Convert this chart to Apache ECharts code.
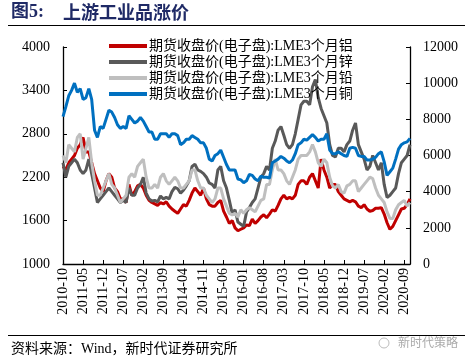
<!DOCTYPE html>
<html><head><meta charset="utf-8">
<script src="https://cdn.jsdelivr.net/npm/echarts@6/dist/echarts.min.js"></script>
<style>html,body{margin:0;padding:0;background:#fff}#c{width:469px;height:364px}</style>
</head><body><div id="c"></div>
<script>
// months 2010-10 .. 2020-11
function buildMonths(){var a=[];var y=2010,m=10;for(var i=0;i<122;i++){a.push(y+'-'+(m<10?'0'+m:m));m++;if(m>12){m=1;y++;}}return a;}
var months = buildMonths();
var seriesNames = ['期货收盘价(电子盘):LME3个月铝','期货收盘价(电子盘):LME3个月锌','期货收盘价(电子盘):LME3个月铅','期货收盘价(电子盘):LME3个月铜'];
var aluminum = [2350,2300,2400,2450,2500,2600,2650,2750,2550,2550,2400,2250,2150,2050,2000,2150,2250,2200,2050,2000,1900,1900,1850,2100,1950,2000,2080,2100,2050,1950,
1880,1850,1830,1810,1850,1830,1860,1800,1760,1730,1700,1760,1820,1800,1880,1980,2050,2000,1950,2050,1900,1820,1800,1800,1850,1880,1730,1650,1560,1600,
1500,1460,1480,1500,1540,1530,1620,1560,1600,1650,1680,1640,1690,1750,1730,1810,1900,1950,1900,1920,1900,1950,2100,2150,2150,2100,2200,2250,2150,2050,
2450,2300,2200,2050,2100,2100,2000,1950,1900,1880,1860,1880,1860,1800,1780,1820,1760,1730,1740,1770,1770,1780,1690,1570,1480,1520,1600,1680,1760,1770,
1820,1900];
var zinc = [2400,2200,2350,2400,2450,2400,2300,2250,2300,2450,2250,2050,1850,1900,1950,2000,2050,2000,1950,1900,1850,1880,1850,2050,1950,1950,2050,2100,2200,1980,
1900,1870,1880,1860,1940,1900,1920,1900,2000,2060,2040,1980,2020,2080,2150,2350,2380,2300,2280,2250,2200,2120,2100,2050,2300,2350,2150,2050,1880,1700,
1750,1580,1550,1520,1720,1780,1850,1900,2050,2200,2250,2350,2300,2600,2700,2850,2900,2780,2650,2600,2650,2800,3000,3200,3250,3250,3200,3450,3550,3300,
3150,3050,2950,2650,2500,2480,2600,2600,2550,2650,2700,2850,2950,2650,2550,2450,2300,2350,2500,2400,2300,2400,2100,1920,1950,2000,2050,2250,2400,2450,
2500,2650];
var lead = [2500,2400,2650,2600,2550,2750,2800,2450,2600,2750,2400,2150,1950,1950,2050,2150,2250,2100,2050,1950,1850,1900,1950,2200,2250,2200,2350,2400,2450,2200,
2050,2050,2100,2050,2200,2250,2150,2100,2150,2200,2150,2050,2050,2100,2150,2300,2300,2150,2050,2050,1950,1900,1850,1900,2050,2050,1900,1800,1700,1680,
1700,1650,1750,1700,1750,1780,1750,1720,1800,1880,1900,2100,2100,2300,2450,2300,2300,2250,2150,2100,2200,2300,2450,2500,2500,2500,2550,2650,2550,2400,
2350,2450,2400,2200,2080,2050,2100,2000,1980,2080,2100,2150,2150,2000,2050,2100,2150,2200,2180,2050,1950,1900,1850,1720,1630,1630,1750,1820,1850,1880,
1800,1850];
var copper = [8150,8700,9300,9600,10000,9500,9700,9100,9200,9700,9100,7400,7000,7600,7500,8000,8500,8400,8100,7700,7500,7600,7500,8200,8000,7800,7900,8100,7900,7600,
7300,7300,6900,6900,7200,7200,7200,7000,7200,7200,7100,6600,6700,6900,6900,7100,7000,6900,6700,6700,6400,5800,5700,6000,6100,6300,5900,5500,5200,5200,
5200,4700,4650,4500,4600,4950,4900,4700,4600,4850,4800,4800,4750,5600,5700,5800,5950,5850,5700,5600,5750,6100,6600,6700,6900,6850,7000,7150,7000,6800,
6900,6900,7200,6300,6100,6100,6200,6100,6000,5950,6400,6450,6400,6000,5950,5950,5750,5750,5800,5900,6100,6200,5650,4900,5100,5300,5800,6350,6600,6700,
6750,6950];
var leftTicks = {min:1000,max:4000,interval:600};
var rightTicks = {min:0,max:12000,interval:2000};
var colors = ['#C00000','#595959','#BFBFBF','#0070C0'];

var serif = "'Liberation Serif','Times New Roman','Noto Sans CJK SC',serif";
var chart = echarts.init(document.getElementById('c'), null, {renderer:'canvas'});
var dataArr = [aluminum, zinc, lead, copper];
var axisIdx = [0,0,0,1];
var series = seriesNames.map(function(n,i){
  return {name:n,type:'line',yAxisIndex:axisIdx[i],data:dataArr[i],symbol:'none',smooth:false,
    lineStyle:{width:3,color:colors[i]},itemStyle:{color:colors[i]},z:2+i,animation:false};
});
var plain = function(v){return String(v);};
chart.setOption({
  animation:false,
  legend:{orient:'vertical',left:104,top:34,itemWidth:38,itemHeight:4,itemGap:2,icon:'rect',
    textStyle:{fontFamily:serif,fontSize:14,color:'#000',padding:[0,0,0,-3]},data:seriesNames},
  grid:{left:63,right:59,top:47,bottom:100,containLabel:false},
  xAxis:{type:'category',data:months,boundaryGap:false,
    axisLine:{lineStyle:{color:'#000',width:1.3}},
    axisTick:{inside:true,length:4,interval:6,lineStyle:{color:'#000'}},
    axisLabel:{interval:6,rotate:90,fontFamily:serif,fontSize:14,color:'#000',margin:4},
    splitLine:{show:false}},
  yAxis:[
    {type:'value',min:leftTicks.min,max:leftTicks.max,interval:leftTicks.interval,
     axisLine:{show:true,lineStyle:{color:'#000',width:1.3}},axisTick:{show:true,inside:true,length:4,lineStyle:{color:'#000'}},
     axisLabel:{fontFamily:serif,fontSize:14,color:'#000',margin:13,formatter:plain},splitLine:{show:false}},
    {type:'value',min:rightTicks.min,max:rightTicks.max,interval:rightTicks.interval,position:'right',
     axisLine:{show:true,lineStyle:{color:'#000',width:1.3}},axisTick:{show:true,inside:true,length:4,lineStyle:{color:'#000'}},
     axisLabel:{fontFamily:serif,fontSize:14,color:'#000',margin:13,formatter:plain},splitLine:{show:false}}
  ],
  graphic:[
    {type:'text',left:11,top:3,style:{text:'图5:',fontFamily:"'Liberation Serif','Noto Sans CJK SC',serif",fontSize:18,fontWeight:'bold',fill:'#1F2A66'}},
    {type:'text',left:63,top:3,style:{text:'上游工业品涨价',fontFamily:"'Noto Sans CJK SC',sans-serif",fontSize:18,fontWeight:'bold',fill:'#1F2A66'}},
    {type:'line',shape:{x1:8,y1:25.5,x2:465,y2:25.5},style:{stroke:'#000',lineWidth:1.2}},
    {type:'line',shape:{x1:8,y1:335.5,x2:465,y2:335.5},style:{stroke:'#000',lineWidth:1}},
    {type:'text',left:11,top:342,style:{text:'资料来源：Wind，新时代证券研究所',fontFamily:serif,fontSize:14,fill:'#000'}},
    {type:'circle',shape:{cx:384,cy:343,r:5},style:{fill:'none',stroke:'#bbb',lineWidth:1}},
    {type:'text',left:398,top:336,style:{text:'新时代策略',fontFamily:"'Noto Sans CJK SC',sans-serif",fontSize:12,fill:'#aaa'}}
  ],
  series:series
});
</script></body></html>
